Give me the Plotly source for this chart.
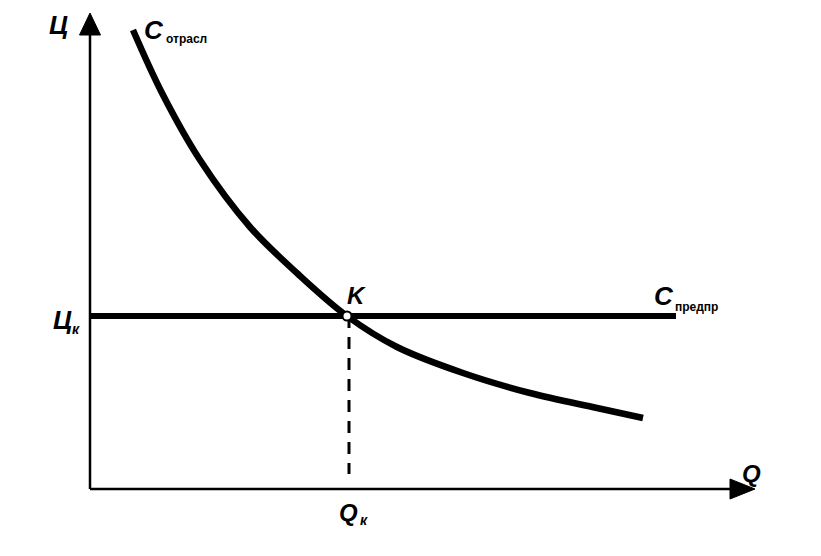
import plotly.graph_objects as go

# ---- data (Q: quantity, P: price) ----
q_sector = [4.3, 7.2, 11.0, 16.0, 20.8, 25.7, 30.7, 37.3, 44.0, 50.7, 55.3]
p_sector = [45.9, 39.6, 32.9, 26.2, 21.5, 17.3, 14.2, 11.6, 9.6, 8.1, 7.1]

q_firm = [0.0, 58.6]
p_firm = [17.3, 17.3]

q_k = 25.7
p_k = 17.3

q_axis_end = 66.5
p_axis_end = 47.6

FONT = "Liberation Sans"
BLACK = "#000000"

fig = go.Figure()

# axes lines
fig.add_trace(go.Scatter(x=[0, 0], y=[0, p_axis_end - 2.0], mode="lines",
                         line=dict(color=BLACK, width=2.5), hoverinfo="skip"))
fig.add_trace(go.Scatter(x=[0, q_axis_end - 2.2], y=[0, 0], mode="lines",
                         line=dict(color=BLACK, width=2.5), hoverinfo="skip"))
# arrow heads
fig.add_trace(go.Scatter(x=[-1.05, 1.05, 0, -1.05],
                         y=[p_axis_end - 2.2, p_axis_end - 2.2, p_axis_end, p_axis_end - 2.2],
                         mode="lines", fill="toself", fillcolor=BLACK,
                         line=dict(color=BLACK, width=1), hoverinfo="skip"))
fig.add_trace(go.Scatter(x=[q_axis_end - 2.5, q_axis_end - 2.5, q_axis_end, q_axis_end - 2.5],
                         y=[-1.0, 1.0, 0, -1.0],
                         mode="lines", fill="toself", fillcolor=BLACK,
                         line=dict(color=BLACK, width=1), hoverinfo="skip"))

# dashed drop line from K
fig.add_trace(go.Scatter(x=[q_k + 0.2, q_k + 0.2], y=[p_k, 1.5], mode="lines",
                         line=dict(color=BLACK, width=3, dash="12px,9px"), hoverinfo="skip"))

# firm line
fig.add_trace(go.Scatter(x=q_firm, y=p_firm, mode="lines",
                         line=dict(color=BLACK, width=6), hoverinfo="skip"))

# sector curve
fig.add_trace(go.Scatter(x=q_sector, y=p_sector, mode="lines",
                         line=dict(color=BLACK, width=6.5, shape="spline", smoothing=1.0),
                         hoverinfo="skip"))

# point K
fig.add_trace(go.Scatter(x=[q_k], y=[p_k], mode="markers",
                         marker=dict(size=9, color="white", line=dict(color=BLACK, width=2)),
                         hoverinfo="skip"))

def label(x, y, text, size, anchor="center", italic=True):
    fig.add_annotation(x=x, y=y, xref="x", yref="y", text=text, showarrow=False,
                       xanchor=anchor, yanchor="middle",
                       font=dict(family=FONT, size=size, color=BLACK, weight="bold",
                                 style="italic" if italic else "normal"))

label(-3.2, 46.4, "Ц", 26)
label(6.4, 45.9, "C", 26)
label(7.4, 45.0, "отрасл", 12, "left", italic=False)
label(-2.8, 16.9, "Ц", 26)
label(-2.0, 16.0, "к", 14, "left")
label(26.6, 19.4, "K", 24)
label(57.4, 19.3, "C", 26)
label(58.3, 18.2, "предпр", 12, "left", italic=False)
label(66.1, 1.6, "Q", 24)
label(25.8, -2.3, "Q", 24)
label(26.8, -3.1, "к", 14, "left")

# the page adds an 8px body margin, so the figure is 16px smaller than the window
fig.update_layout(
    width=805, height=540,
    margin=dict(l=0, r=0, t=0, b=0),
    paper_bgcolor="white", plot_bgcolor="white",
    showlegend=False,
    xaxis=dict(range=[-8.2, 72.3], visible=False, fixedrange=True),
    yaxis=dict(range=[-5.9, 48.1], visible=False, fixedrange=True),
)

fig.write_html("out.html")
